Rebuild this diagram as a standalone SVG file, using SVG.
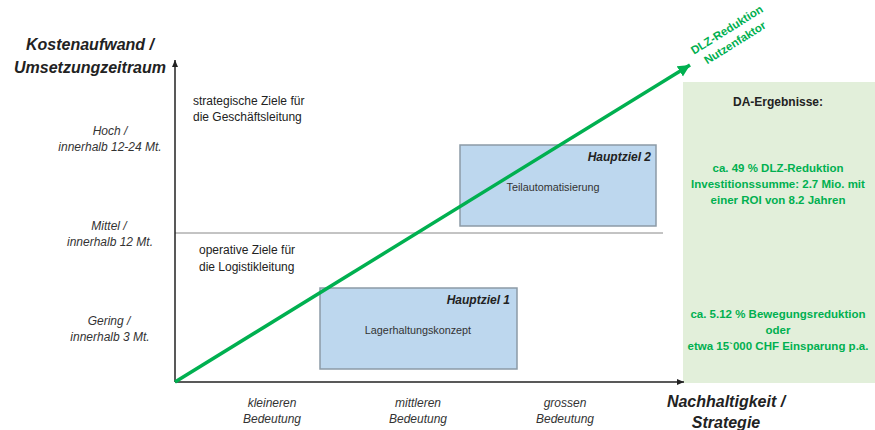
<svg xmlns="http://www.w3.org/2000/svg" width="875" height="430" viewBox="0 0 875 430">
<defs>
<marker id="ah" markerWidth="8" markerHeight="8" refX="7" refY="4" orient="auto" markerUnits="userSpaceOnUse"><path d="M0,1 L7,4 L0,7 Z" fill="#222"/></marker>
<marker id="ahg" markerWidth="14" markerHeight="14" refX="12" refY="6" orient="auto" markerUnits="userSpaceOnUse"><path d="M0,0 L12,6 L0,12 Z" fill="#00b050"/></marker>
<style>
text{font-family:"Liberation Sans",Arial,sans-serif;fill:#222}
.ax{font-size:16px;font-weight:bold;font-style:italic;text-anchor:middle}
.lv{font-size:12px;font-style:italic;text-anchor:middle;fill:#333}
.zt{font-size:12px;fill:#222}
.hz{font-size:12px;font-weight:bold;font-style:italic;text-anchor:end}
.bx{fill:#bdd7ee;stroke:#8c9aa6;stroke-width:1.5}
.in{font-size:10.8px;text-anchor:middle;fill:#333}
.gr{font-size:11.5px;font-weight:bold;text-anchor:middle;fill:#00b050}
</style>
</defs>
<rect x="683" y="82" width="192" height="301" fill="#e2efda"/>
<g id="connectors">
<line x1="175" y1="233" x2="663" y2="233" stroke="#888" stroke-width="1"/>
<line x1="175" y1="382" x2="175" y2="60" stroke="#222" stroke-width="1.5" marker-end="url(#ah)"/>
<line x1="175" y1="382" x2="684" y2="382" stroke="#222" stroke-width="1.5" marker-end="url(#ah)"/>
</g>
<g id="ziel1">
<rect class="bx" x="320" y="288" width="197" height="81"/>
<text class="hz" x="510" y="304">Hauptziel 1</text>
<text class="in" x="418" y="334">Lagerhaltungskonzept</text>
</g>
<g id="ziel2">
<rect class="bx" x="460" y="145" width="196" height="81"/>
<text class="hz" x="651" y="161">Hauptziel 2</text>
<text class="in" x="553" y="191">Teilautomatisierung</text>
</g>
<g id="trend">
<line x1="175" y1="382" x2="690" y2="65" stroke="#00b050" stroke-width="3.5" marker-end="url(#ahg)"/>
<text class="gr" font-size="12" transform="translate(729,33) rotate(-32)">DLZ-Reduktion</text>
<text class="gr" transform="translate(737,46) rotate(-32)">Nutzenfaktor</text>
</g>
<g id="yaxis-labels">
<text class="ax" x="90" y="50">Kostenaufwand /</text>
<text class="ax" x="90" y="73">Umsetzungzeitraum</text>
<text class="lv" x="110" y="135">Hoch /</text>
<text class="lv" x="110" y="151">innerhalb 12-24 Mt.</text>
<text class="lv" x="109" y="230">Mittel /</text>
<text class="lv" x="110" y="246">innerhalb 12 Mt.</text>
<text class="lv" x="109" y="325">Gering /</text>
<text class="lv" x="110" y="341">innerhalb 3 Mt.</text>
</g>
<g id="zones">
<text class="zt" x="193" y="105">strategische Ziele für</text>
<text class="zt" x="193" y="121">die Geschäftsleitung</text>
<text class="zt" x="199" y="254">operative Ziele für</text>
<text class="zt" x="199" y="271">die Logistikleitung</text>
</g>
<g id="xaxis-labels">
<text class="lv" x="272" y="407">kleineren</text>
<text class="lv" x="272" y="423">Bedeutung</text>
<text class="lv" x="418" y="407">mittleren</text>
<text class="lv" x="418" y="423">Bedeutung</text>
<text class="lv" x="565" y="407">grossen</text>
<text class="lv" x="565" y="423">Bedeutung</text>
<text class="ax" x="726" y="407">Nachhaltigkeit /</text>
<text class="ax" x="726" y="428">Strategie</text>
</g>
<g id="ergebnisse">
<text x="778" y="106" font-size="12" font-weight="bold" text-anchor="middle">DA-Ergebnisse:</text>
<text class="gr" x="778" y="172">ca. 49 % DLZ-Reduktion</text>
<text class="gr" x="778" y="188">Investitionssumme: 2.7 Mio. mit</text>
<text class="gr" x="778" y="204">einer ROI von 8.2 Jahren</text>
<text class="gr" x="778" y="318">ca. 5.12 % Bewegungsreduktion</text>
<text class="gr" x="778" y="334">oder</text>
<text class="gr" x="778" y="350">etwa 15`000 CHF Einsparung p.a.</text>
</g>
</svg>
